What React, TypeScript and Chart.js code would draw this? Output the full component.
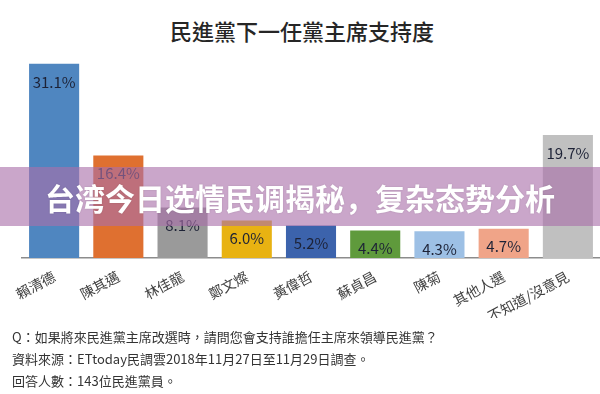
import React, { useEffect, useRef } from "react";
import { Chart, registerables } from "chart.js";

Chart.register(...registerables);

const chartTitle = "民進黨下一任黨主席支持度";
const categories = ["賴清德", "陳其邁", "林佳龍", "鄭文燦", "黃偉哲", "蘇貞昌", "陳菊", "其他人選", "不知道/沒意見"];
const supportValues = [31.1, 16.4, 8.1, 6.0, 5.2, 4.4, 4.3, 4.7, 19.7];
const valueLabels = ["31.1%", "16.4%", "8.1%", "6.0%", "5.2%", "4.4%", "4.3%", "4.7%", "19.7%"];
const barColors = ["#4F86C0", "#DF7030", "#9A9A9A", "#E8B212", "#3C63AC", "#5F9A3C", "#9DC0E5", "#F0A488", "#C0C0C0"];
const footnotes = [
  "Q：如果將來民進黨主席改選時，請問您會支持誰擔任主席來領導民進黨？",
  "資料來源：ETtoday民調雲2018年11月27日至11月29日調查。",
  "回答人數：143位民進黨員。",
];
const bannerText = "台湾今日选情民调揭秘，复杂态势分析";

const FONT = '"Noto Sans CJK TC", "Noto Sans", sans-serif';

const valueLabelPlugin = {
  id: "valueLabels",
  afterDatasetsDraw(chart: any) {
    const ctx = chart.ctx;
    const meta = chart.getDatasetMeta(0);
    ctx.save();
    ctx.font = `15px ${FONT}`;
    ctx.fillStyle = "#1d2236";
    ctx.textAlign = "center";
    ctx.textBaseline = "middle";
    meta.data.forEach((bar: any, i: number) => {
      ctx.fillText(valueLabels[i], bar.x, bar.y + 18);
    });
    ctx.restore();
  },
};

export default function App() {
  const canvasRef = useRef<HTMLCanvasElement | null>(null);

  useEffect(() => {
    if (!canvasRef.current) return;
    const chart = new Chart(canvasRef.current, {
      type: "bar",
      data: {
        labels: categories,
        datasets: [
          {
            data: supportValues,
            backgroundColor: barColors,
            borderWidth: 0,
            categoryPercentage: 1,
            barPercentage: 0.78,
          },
        ],
      },
      options: {
        responsive: false,
        animation: false,
        devicePixelRatio: 1,
        layout: { padding: { top: 52, left: 22, right: 0, bottom: 76 } },
        plugins: {
          legend: { display: false },
          title: { display: false },
          tooltip: { enabled: false },
        },
        scales: {
          x: {
            grid: { display: false, drawTicks: false },
            border: { display: true, color: "#8c8c8c", width: 1.5 },
            ticks: {
              color: "#404040",
              font: { family: FONT, size: 14 },
              minRotation: 28,
              maxRotation: 28,
              padding: 10,
              autoSkip: false,
            },
            afterFit: (scale: any) => {
              scale.height = 60;
              scale.paddingLeft = 0;
              scale.paddingRight = 0;
            },
          },
          y: { display: false, min: 0, max: 33 },
        },
      },
      plugins: [valueLabelPlugin],
    });
    return () => chart.destroy();
  }, []);

  return (
    <div
      style={{
        position: "fixed",
        left: 0,
        top: 0,
        width: 600,
        height: 394,
        background: "#ffffff",
        overflow: "hidden",
        fontFamily: FONT,
      }}
    >
      <div
        style={{
          position: "absolute",
          left: 0,
          top: 16,
          width: 604,
          textAlign: "center",
          fontSize: 22,
          lineHeight: "28px",
          color: "#262626",
          fontWeight: 500,
        }}
      >
        {chartTitle}
      </div>
      <canvas ref={canvasRef} width={600} height={394} style={{ position: "absolute", left: 0, top: 0 }} />
      {footnotes.map((t, i) => (
        <div
          key={i}
          style={{
            position: "absolute",
            left: 12,
            top: 326 + i * 22,
            fontSize: 13,
            lineHeight: "22px",
            color: "#333333",
            whiteSpace: "nowrap",
          }}
        >
          {t}
        </div>
      ))}
      <div
        style={{
          position: "absolute",
          left: 0,
          top: 167,
          width: 600,
          height: 59,
          background: "rgba(170,111,170,0.62)",
          display: "flex",
          alignItems: "center",
          justifyContent: "center",
          color: "#ffffff",
          fontFamily: '"Noto Sans CJK SC", sans-serif',
          fontWeight: 700,
          fontSize: 30,
          letterSpacing: 0,
          textShadow: "0 0 2px rgba(0,0,0,0.15)",
        }}
      >
        {bannerText}
      </div>
    </div>
  );
}
